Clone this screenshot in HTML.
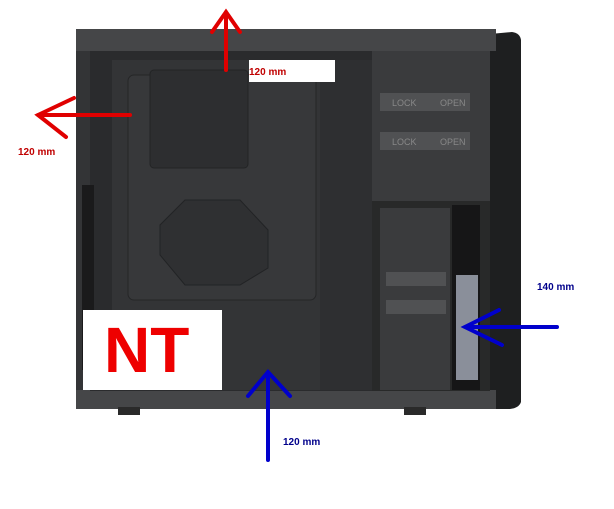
<!DOCTYPE html>
<html><head><style>body{margin:0;background:#fff}svg{display:block}text{font-family:"Liberation Sans",sans-serif;font-weight:bold}</style></head><body>
<svg width="614" height="509" viewBox="0 0 614 509" xmlns="http://www.w3.org/2000/svg">
<rect width="614" height="509" fill="#fff"/>
<rect x="76" y="29" width="420" height="380" fill="#333436"/>
<path d="M490 34 L512 32 Q520 33 521 40 L521 402 Q519 408 510 409 L490 409Z" fill="#1e1f20"/>
<rect x="76" y="29" width="420" height="22" fill="#454648"/>
<rect x="76" y="390" width="420" height="19" fill="#454648"/>
<rect x="90" y="51" width="282" height="340" fill="#2a2b2d"/>
<rect x="112" y="60" width="258" height="330" fill="#333436"/>
<rect x="128" y="75" width="188" height="225" rx="6" fill="#37383a" stroke="#252627"/>
<rect x="150" y="70" width="98" height="98" rx="4" fill="#2d2e30" stroke="#232425"/>
<path d="M185 200 L240 200 L268 230 L268 268 L240 285 L185 285 L160 255 L160 225Z" fill="#2f3032" stroke="#222325"/>
<rect x="320" y="60" width="52" height="330" fill="#2e2f31"/>
<rect x="82" y="185" width="12" height="185" fill="#1a1a1b"/>
<rect x="372" y="51" width="118" height="150" fill="#3a3b3d"/>
<rect x="380" y="93" width="90" height="18" fill="#505153"/>
<rect x="380" y="132" width="90" height="18" fill="#505153"/>
<text x="392" y="106" font-size="9" fill="#888" style="font-weight:normal">LOCK</text>
<text x="440" y="106" font-size="9" fill="#888" style="font-weight:normal">OPEN</text>
<text x="392" y="145" font-size="9" fill="#888" style="font-weight:normal">LOCK</text>
<text x="440" y="145" font-size="9" fill="#888" style="font-weight:normal">OPEN</text>
<rect x="372" y="201" width="118" height="190" fill="#282929"/>
<rect x="380" y="208" width="70" height="182" fill="#3a3b3d"/>
<rect x="386" y="272" width="60" height="14" fill="#505153"/>
<rect x="386" y="300" width="60" height="14" fill="#505153"/>
<rect x="452" y="205" width="28" height="185" fill="#161617"/>
<rect x="456" y="275" width="22" height="105" fill="#8a8f9a"/>
<rect x="118" y="407" width="22" height="8" fill="#2a2a2a"/>
<rect x="404" y="407" width="22" height="8" fill="#2a2a2a"/>
<rect x="249" y="60" width="86" height="22" fill="#fff"/>
<text x="249" y="75" font-size="10" fill="#c00000">120 mm</text>
<text x="18" y="155" font-size="10" fill="#c00000">120 mm</text>
<text x="537" y="290" font-size="10" fill="#00008b">140 mm</text>
<text x="283" y="445" font-size="10" fill="#00008b">120 mm</text>
<rect x="83" y="310" width="139" height="80" fill="#fff"/>
<text x="104" y="372" font-size="64" fill="#ee0000">NT</text>
<g stroke="#e00000" stroke-width="4" fill="none" stroke-linecap="round">
<path d="M226 70 L226 12 M212 32 L226 12 L240 32"/>
<path d="M130 115 L38 115 M74 98 L38 115 L66 137"/>
</g>
<g stroke="#0000cc" stroke-width="4" fill="none" stroke-linecap="round">
<path d="M268 460 L268 372 M248 396 L268 372 L290 396"/>
<path d="M557 327 L465 327 M499 310 L465 327 L502 345"/>
</g>
</svg>
</body></html>
